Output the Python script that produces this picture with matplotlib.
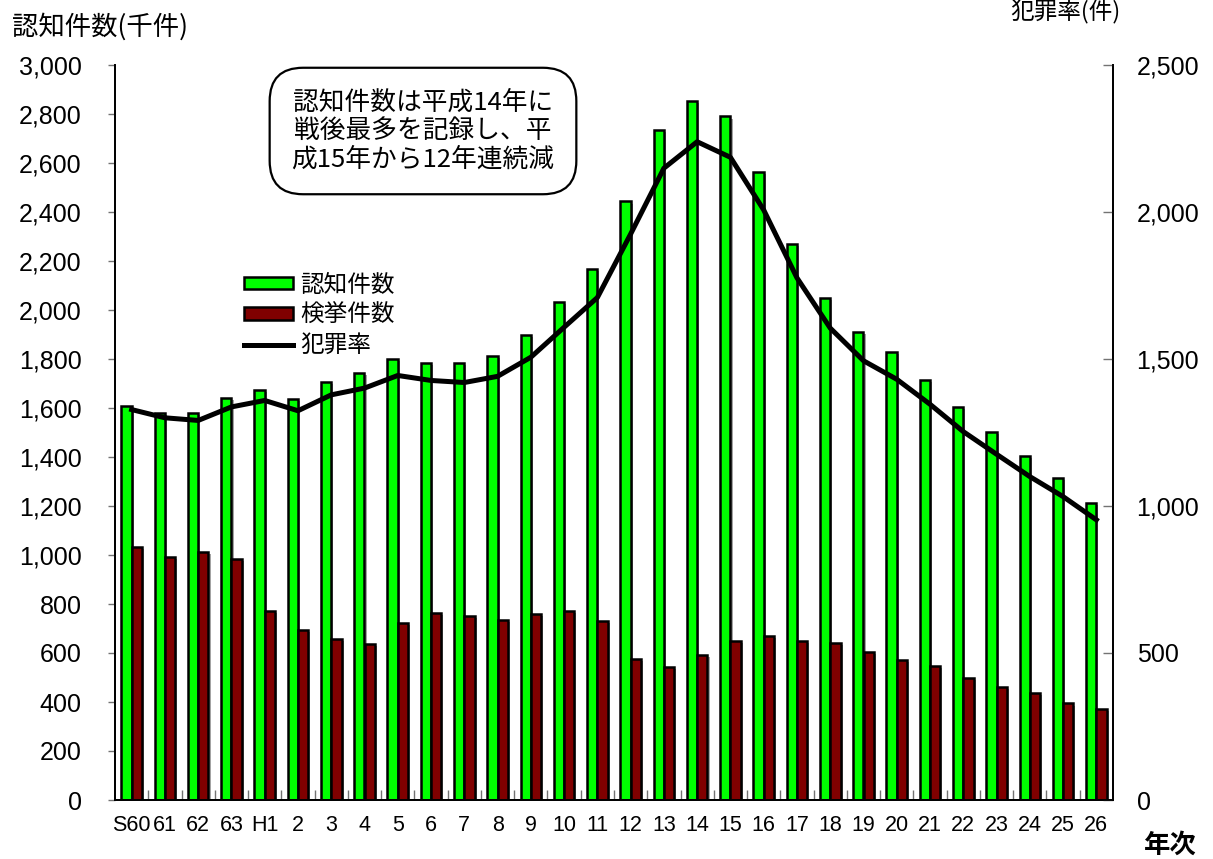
import matplotlib
matplotlib.use("Agg")
import matplotlib.pyplot as plt
import matplotlib.patheffects as pe
from matplotlib.patches import Patch
from matplotlib.lines import Line2D
import numpy as np

categories = ["S60", "61", "62", "63", "H1", "2", "3", "4", "5", "6", "7", "8", "9", "10",
              "11", "12", "13", "14", "15", "16", "17", "18", "19", "20", "21", "22", "23",
              "24", "25", "26"]
ninchi = [1608, 1581, 1578, 1641, 1673, 1637, 1708, 1742, 1801, 1784, 1783, 1812, 1900, 2034,
          2166, 2443, 2736, 2854, 2790, 2563, 2270, 2051, 1909, 1827, 1714, 1604, 1503,
          1403, 1314, 1212]
kenkyo = [1033, 993, 1012, 983, 771, 693, 657, 636, 723, 765, 753, 736, 760, 772,
          731, 577, 542, 592, 648, 668, 650, 641, 605, 573, 546, 497, 463,
          438, 394, 371]
hanzairitsu = [1328, 1300, 1291, 1337, 1359, 1324, 1378, 1401, 1444, 1427, 1420, 1441, 1506, 1608,
               1709, 1925, 2149, 2239, 2186, 2007, 1776, 1605, 1494, 1431, 1346, 1253, 1176,
               1100, 1032, 953]
left_ticks = list(range(0, 3001, 200))
right_ticks = list(range(0, 2501, 500))

JP = ["Noto Sans CJK JP", "DejaVu Sans"]
NUM = ["Liberation Sans", "DejaVu Sans"]

W, H = 1213, 859
fig = plt.figure(figsize=(W / 100, H / 100), dpi=100)
ax = fig.add_axes([115 / W, (H - 800) / H, 998 / W, 735 / H])
ax2 = ax.twinx()

x = np.arange(len(categories))
bw = 0.31
shadow = [pe.SimplePatchShadow(offset=(1.5, -1.5), shadow_rgbFace="0.55", alpha=0.8), pe.Normal()]
b1 = ax.bar(x - bw / 2, ninchi, bw, color="#00FF00", edgecolor="black", linewidth=1.8, zorder=2)
b2 = ax.bar(x + bw / 2, kenkyo, bw, color="#800000", edgecolor="black", linewidth=1.8, zorder=2)
for b in list(b1) + list(b2):
    b.set_path_effects(shadow)

ax2.plot(x, hanzairitsu, color="black", linewidth=3.6, solid_joinstyle="round", zorder=3)

ax.set_xlim(-0.5, len(categories) - 0.5)
ax.set_ylim(0, 3000)
ax2.set_ylim(0, 2500)

ax.set_yticks(left_ticks)
ax.set_yticklabels([f"{v:,}" for v in left_ticks], family=NUM, fontsize=18)
ax.tick_params(axis="y", direction="out", length=5, width=1, color="0.45", pad=19)

ax2.set_yticks(right_ticks)
ax2.set_yticklabels([f"{v:,}" for v in right_ticks], family=NUM, fontsize=18)
ax2.tick_params(axis="y", direction="in", length=7, width=1, color="0.45", pad=17)

ax.set_xticks(x)
ax.set_xticklabels(categories, family=NUM, fontsize=15.5)
ax.tick_params(axis="x", which="major", length=0, pad=11)
ax.set_xticks(np.arange(0.5, len(categories) - 1, 1.0), minor=True)
ax.tick_params(axis="x", which="minor", direction="in", length=7, width=1, color="0.45")

for a in (ax, ax2):
    a.spines["top"].set_visible(False)
    for s in ("left", "right", "bottom"):
        a.spines[s].set_color("black")
        a.spines[s].set_linewidth(1.3)

fig.text(12 / W, 1 - 27 / H, "認知件数(千件)", family=JP, fontsize=19, ha="left", va="center")
fig.text(1010 / W, 1 - 12 / H, "犯罪率(件)", family=JP, fontsize=17, ha="left", va="center")
fig.text(1170 / W, 1 - 845 / H, "年次", family=JP, fontsize=19, fontweight="bold", ha="center", va="center")

fig.text(423 / W, 1 - 131 / H, "認知件数は平成14年に\n戦後最多を記録し、平\n成15年から12年連続減",
         family=JP, fontsize=18.5, ha="center", va="center", linespacing=1.12,
         bbox=dict(boxstyle="round,pad=0.85,rounding_size=1.3", facecolor="white",
                   edgecolor="black", linewidth=1.6), zorder=10)

handles = [Patch(facecolor="#00FF00", edgecolor="black", linewidth=1.8),
           Patch(facecolor="#800000", edgecolor="black", linewidth=1.8),
           Line2D([0], [0], color="black", linewidth=3.6)]
leg = ax2.legend(handles, ["認知件数", "検挙件数", "犯罪率"], prop={"family": JP, "size": 17},
                 loc="upper left", bbox_to_anchor=(232 / W, 1 - 262 / H),
                 bbox_transform=fig.transFigure, frameon=False, borderpad=0,
                 handlelength=2.1, handleheight=0.42, handletextpad=0.3, labelspacing=0.3)

fig.savefig("out.png", dpi=100)
